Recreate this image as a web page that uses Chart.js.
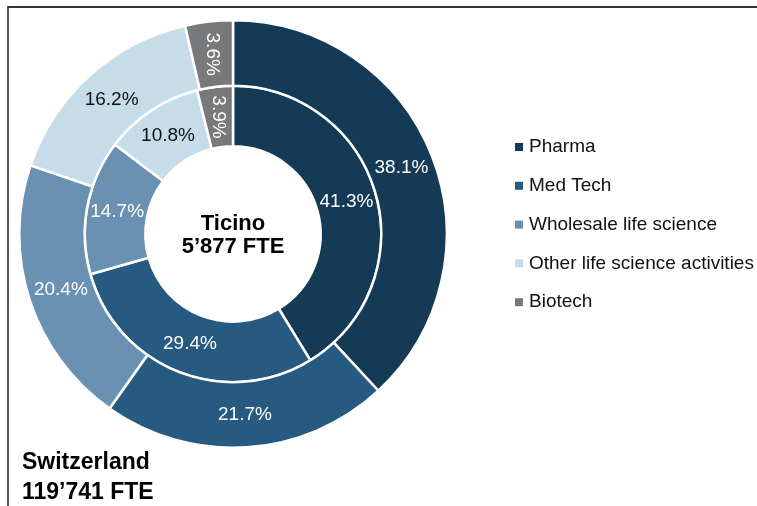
<!DOCTYPE html>
<html>
<head>
<meta charset="utf-8">
<script src="https://cdn.jsdelivr.net/npm/chart.js@4.4.0/dist/chart.umd.min.js"></script>
<style>
  html, body { margin: 0; padding: 0; background: #fff; overflow: hidden; }
  #wrap { position: relative; width: 757px; height: 506px; }
  #frame { position: absolute; left: 7px; top: 6px; right: -5px; bottom: -5px;
           border-top: 2px solid #333; border-left: 2px solid #555; }
  canvas { position: absolute; left: 0; top: 0; }
</style>
</head>
<body>
<div id="wrap">
  <div id="frame"></div>
  <canvas id="chart" width="757" height="506"></canvas>
</div>
<script>
const sectores = ["Pharma", "Med Tech", "Wholesale life science", "Other life science activities", "Biotech"];
const suiza = [38.1, 21.7, 20.4, 16.2, 3.6];
const ticino = [41.3, 29.4, 14.7, 10.8, 3.9];
const colores = ["#153a55", "#265a80", "#6a91b2", "#c6dde9", "#78797b"];
const colorTexto = ["#fff", "#fff", "#fff", "#111", "#fff"];

const fuente = "'Liberation Sans', Arial, sans-serif";

const etiquetas = {
  id: "etiquetas",
  afterDatasetsDraw(chart) {
    const ctx = chart.ctx;
    ctx.save();
    ctx.font = "19px " + fuente;
    ctx.textAlign = "center";
    ctx.textBaseline = "middle";
    chart.data.datasets.forEach((ds, i) => {
      chart.getDatasetMeta(i).data.forEach((arc, j) => {
        const p = arc.getCenterPoint();
        ctx.fillStyle = colorTexto[j];
        const txt = ds.data[j].toFixed(1) + "%";
        if (ds.data[j] < 5) {
          ctx.save();
          ctx.translate(p.x, p.y);
          ctx.rotate(Math.PI / 2);
          ctx.fillText(txt, 0, 0);
          ctx.restore();
        } else {
          ctx.fillText(txt, p.x, p.y);
        }
      });
    });

    // texto central y de Suiza
    ctx.fillStyle = "#000";
    ctx.font = "bold 22px " + fuente;
    const c = chart.getDatasetMeta(0).data[0];
    ctx.fillText("Ticino", c.x, c.y - 10);
    ctx.fillText("5\u2019877 FTE", c.x, c.y + 13);
    ctx.textAlign = "left";
    ctx.font = "bold 23px " + fuente;
    ctx.fillText("Switzerland", 22, 463);
    ctx.fillText("119\u2019741 FTE", 22, 493);

    // leyenda
    ctx.font = "19px " + fuente;
    sectores.forEach((s, j) => {
      const y = 147 + j * 38.8;
      ctx.fillStyle = colores[j];
      ctx.fillRect(515, y - 4, 8, 8);
      ctx.fillStyle = "#111";
      ctx.fillText(s, 529, y);
    });
    ctx.restore();
  }
};

const config = {
  type: "doughnut",
  data: {
    labels: sectores,
    datasets: [
      { label: "Switzerland", data: suiza, backgroundColor: colores, borderColor: "#fff", borderWidth: 2.5, weight: 65 },
      { label: "Ticino", data: ticino, backgroundColor: colores, borderColor: "#fff", borderWidth: 2.5, weight: 60 }
    ]
  },
  options: {
    responsive: false,
    animation: false,
    cutout: "41%",
    layout: { padding: { left: 18, top: 19, right: 309, bottom: 57 } },
    plugins: {
      legend: { display: false },
      tooltip: { enabled: false }
    }
  },
  plugins: [etiquetas]
};

new Chart(document.getElementById("chart"), config);
</script>
</body>
</html>
